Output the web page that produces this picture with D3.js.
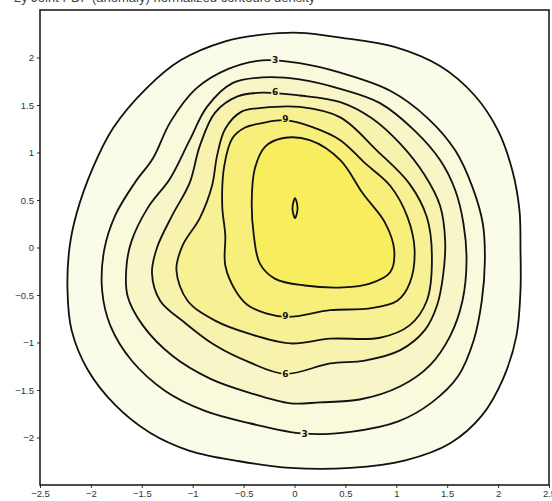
<!DOCTYPE html>
<html>
<head>
<meta charset="utf-8">
<script src="https://cdn.jsdelivr.net/npm/d3@7"></script>
<style>
  body { margin: 0; background: #fff; }
  svg { display: block; }
  .tick text { font-family: "Liberation Sans", Arial, sans-serif; font-size: 9.5px; fill: #333; }
  .tick line { stroke: #333; }
</style>
</head>
<body>
<script>
// contour levels (outermost first) and the band colour inside each one
var levels = [1.5, 3, 4.5, 6, 7.5, 9, 10.5, 12];
var bandColors = ["#fbfbea", "#f9f9dc", "#f8f6c8", "#f7f3ae", "#f7f194", "#f7ef7a", "#f8ed5c", "#f8ed5c"];

// each ring, in data units [x, y]
var ring1_5 = [[0.05,2.26],[0.45,2.21],[0.99,2.11],[1.43,1.91],[1.77,1.6],[2.0,1.23],[2.14,0.81],[2.21,0.39],[2.22,-0.03],[2.22,-0.45],[2.18,-0.93],[2.05,-1.38],[1.84,-1.77],[1.53,-2.06],[1.09,-2.24],[0.55,-2.32],[-0.04,-2.32],[-0.54,-2.25],[-1.03,-2.14],[-1.42,-1.95],[-1.76,-1.66],[-2.03,-1.29],[-2.19,-0.87],[-2.23,-0.45],[-2.21,0],[-2.14,0.36],[-1.98,0.84],[-1.78,1.26],[-1.45,1.68],[-1.12,1.97],[-0.68,2.17],[-0.32,2.24]];
var ring3 = [[-0.32,1.97],[0.05,1.94],[0.45,1.84],[0.94,1.65],[1.31,1.36],[1.58,1.02],[1.75,0.63],[1.85,0.25],[1.87,-0.14],[1.84,-0.56],[1.76,-0.98],[1.61,-1.35],[1.35,-1.63],[1.02,-1.83],[0.55,-1.94],[0.1,-1.96],[-0.44,-1.85],[-0.88,-1.72],[-1.27,-1.51],[-1.6,-1.19],[-1.81,-0.82],[-1.89,-0.45],[-1.87,-0.03],[-1.76,0.34],[-1.57,0.68],[-1.39,0.94],[-1.22,1.32],[-0.97,1.67],[-0.65,1.88]];
var ring4_5 = [[-0.32,1.79],[0.05,1.77],[0.45,1.67],[0.84,1.52],[1.18,1.23],[1.43,0.92],[1.58,0.6],[1.66,0.25],[1.69,-0.14],[1.65,-0.56],[1.53,-0.93],[1.33,-1.24],[1.04,-1.46],[0.64,-1.6],[0.25,-1.63],[-0.04,-1.64],[-0.44,-1.53],[-0.83,-1.38],[-1.2,-1.14],[-1.49,-0.82],[-1.64,-0.51],[-1.65,-0.19],[-1.6,0.07],[-1.44,0.42],[-1.22,0.73],[-1.03,1.13],[-0.86,1.48],[-0.61,1.73]];
var ring6 = [[-0.32,1.63],[0.05,1.6],[0.45,1.53],[0.76,1.36],[1.04,1.09],[1.28,0.76],[1.43,0.44],[1.48,0.07],[1.46,-0.29],[1.4,-0.61],[1.28,-0.87],[1.04,-1.08],[0.69,-1.19],[0.35,-1.22],[-0.09,-1.33],[-0.44,-1.21],[-0.78,-1.03],[-1.08,-0.79],[-1.32,-0.56],[-1.4,-0.27],[-1.35,0],[-1.2,0.34],[-1.03,0.68],[-0.93,1.07],[-0.78,1.42],[-0.56,1.59]];
var ring7_5 = [[-0.32,1.47],[0.05,1.48],[0.45,1.37],[0.81,1.02],[1.13,0.67],[1.3,0.32],[1.35,-0.11],[1.3,-0.56],[1.13,-0.82],[0.84,-0.95],[0.35,-0.96],[-0.04,-1.01],[-0.44,-0.91],[-0.78,-0.77],[-1.05,-0.56],[-1.16,-0.24],[-1.1,0.02],[-0.93,0.31],[-0.81,0.65],[-0.76,0.97],[-0.68,1.25],[-0.52,1.43]];
var ring9 = [[-0.32,1.31],[-0.09,1.34],[0.17,1.27],[0.45,1.13],[0.69,0.89],[0.94,0.65],[1.11,0.32],[1.18,-0.03],[1.13,-0.38],[1.01,-0.56],[0.74,-0.64],[0.35,-0.66],[-0.09,-0.73],[-0.44,-0.62],[-0.57,-0.47],[-0.68,-0.19],[-0.68,0.13],[-0.71,0.44],[-0.69,0.86],[-0.61,1.15],[-0.49,1.26]];
var ring10_5 = [[-0.29,1.06],[-0.12,1.15],[0.15,1.13],[0.45,0.92],[0.67,0.57],[0.89,0.26],[0.98,-0.03],[0.94,-0.26],[0.74,-0.38],[0.48,-0.42],[0.1,-0.4],[-0.19,-0.33],[-0.34,-0.17],[-0.4,0.13],[-0.42,0.49],[-0.39,0.83]];
var ring12 = [[0.005,0.52],[0.03,0.41],[0.005,0.31],[-0.02,0.41]];
var rings = [ring1_5, ring3, ring4_5, ring6, ring7_5, ring9, ring10_5, ring12];

// contour labels
var labelText = ["3", "6", "9", "9", "6", "3"];
var labelX = [-0.19, -0.19, -0.09, -0.09, -0.09, 0.1];
var labelY = [1.98, 1.64, 1.35, -0.72, -1.33, -1.96];
var labelBand = [1, 3, 5, 5, 3, 1];

var xTicks = [-2.5, -2, -1.5, -1, -0.5, 0, 0.5, 1, 1.5, 2, 2.5];
var yTicks = [-2, -1.5, -1, -0.5, 0, 0.5, 1, 1.5, 2];

var width = 552, height = 501;
var margin = { top: 10, right: 3, bottom: 16, left: 40 };

var svg = d3.select("body").append("svg")
    .attr("width", width)
    .attr("height", height);

var x = d3.scaleLinear().domain([-2.5, 2.5]).range([margin.left, width - margin.right]);
var y = d3.scaleLinear().domain([-2.5, 2.5]).range([height - margin.bottom, margin.top]);

// title, mostly cropped by the top of the picture
svg.append("text")
    .attr("x", 14)
    .attr("y", 2)
    .style("font-family", "Liberation Sans, Arial, sans-serif")
    .style("font-size", "13px")
    .style("fill", "#444")
    .text("2y Joint PDF (anomaly) normalized contours density");

svg.append("clipPath").attr("id", "plot")
  .append("rect")
    .attr("x", margin.left).attr("y", margin.top)
    .attr("width", width - margin.left - margin.right)
    .attr("height", height - margin.top - margin.bottom);

var line = d3.line()
    .x(function(d) { return x(d[0]); })
    .y(function(d) { return y(d[1]); })
    .curve(d3.curveCatmullRomClosed.alpha(0.5));

var g = svg.append("g").attr("clip-path", "url(#plot)");

g.selectAll("path.band")
  .data(rings)
  .enter().append("path")
    .attr("class", "band")
    .attr("d", line)
    .attr("fill", function(d, i) { return bandColors[i]; })
    .attr("stroke", "#111")
    .attr("stroke-width", 1.8);

// labels sit on the line, with a gap cut in it
g.selectAll("text.clab")
  .data(labelText)
  .enter().append("text")
    .attr("class", "clab")
    .attr("x", function(d, i) { return x(labelX[i]); })
    .attr("y", function(d, i) { return y(labelY[i]); })
    .attr("dy", "0.35em")
    .attr("text-anchor", "middle")
    .style("font-family", "DejaVu Sans, sans-serif")
    .style("font-size", "9px")
    .style("font-weight", "bold")
    .style("fill", "#111")
    .style("paint-order", "stroke")
    .style("stroke", function(d, i) { return bandColors[labelBand[i]]; })
    .style("stroke-width", 3)
    .text(function(d) { return d; });

var fmt = function(d) { return String(d).replace("-", "\u2212"); };

svg.append("g")
    .attr("transform", "translate(0," + (height - margin.bottom) + ")")
    .call(d3.axisBottom(x).tickValues(xTicks).tickSize(3).tickPadding(2).tickFormat(fmt))
    .call(function(a) { a.select(".domain").remove(); });

svg.append("g")
    .attr("transform", "translate(" + margin.left + ",0)")
    .call(d3.axisLeft(y).tickValues(yTicks).tickSize(3).tickPadding(3).tickFormat(fmt))
    .call(function(a) { a.select(".domain").remove(); });

svg.append("rect")
    .attr("x", margin.left)
    .attr("y", margin.top)
    .attr("width", width - margin.left - margin.right)
    .attr("height", height - margin.top - margin.bottom)
    .attr("fill", "none")
    .attr("stroke", "#111")
    .attr("stroke-width", 1.5);
</script>
</body>
</html>
